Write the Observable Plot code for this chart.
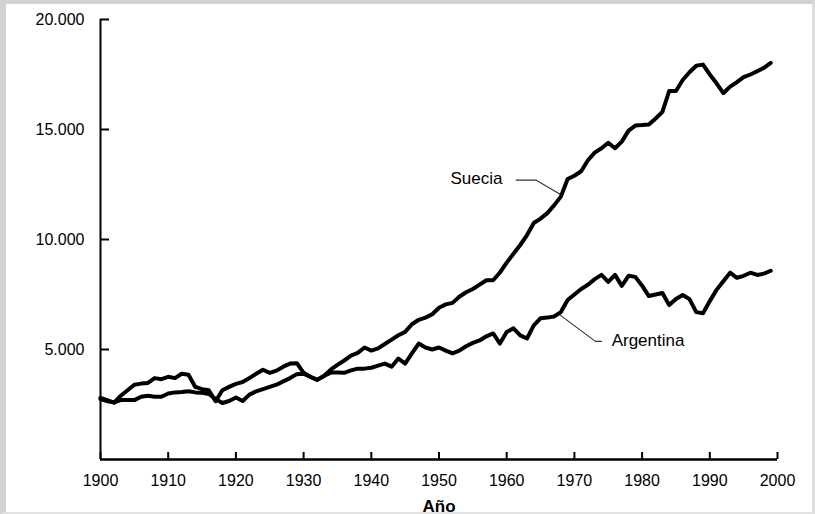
<!DOCTYPE html>
<html>
<head>
<meta charset="utf-8">
<script src="https://cdn.jsdelivr.net/npm/d3@7"></script>
<script src="https://cdn.jsdelivr.net/npm/@observablehq/plot@0.6"></script>
<style>
  html, body { margin: 0; padding: 0; background: #ffffff; }
  #wrap { position: relative; width: 815px; height: 514px; overflow: hidden; }
  #frame { position: absolute; left: 0; top: 0; width: 815px; height: 514px; box-sizing: border-box;
           border-left: 6px solid #d2d2d2; border-top: 4px solid #d2d2d2; border-right: 3px solid #dcdcdc; border-bottom: 2px solid #e2e2e2; pointer-events: none; }
  svg { font-family: "Liberation Sans", Arial, Helvetica, sans-serif; }
</style>
</head>
<body>
<div id="wrap"><div id="chart"></div><div id="frame"></div></div>
<script>
// ---- Data ----
const startYear = 1900;
const endYear = 1999;

const suecia = [
  2750, 2650, 2600, 2700, 2700, 2700, 2850, 2900, 2850, 2850,
  3000, 3050, 3070, 3100, 3050, 3030, 2980, 2750, 2570, 2660,
  2820, 2660, 2950, 3100, 3200, 3300, 3400, 3550, 3700, 3880,
  3900, 3750, 3620, 3800, 4080, 4300, 4500, 4720, 4850, 5090,
  4950, 5050, 5250, 5450, 5650, 5800, 6150, 6350, 6450, 6600,
  6900, 7050, 7120, 7400, 7600, 7750, 7950, 8150, 8150, 8500,
  8950, 9350, 9750, 10200, 10750, 10950, 11200, 11550, 11950, 12750,
  12900, 13100, 13600, 13950, 14150, 14400, 14150, 14450, 14950, 15180,
  15200, 15230, 15500, 15800, 16750, 16750, 17250, 17600, 17900, 17950,
  17500, 17100, 16650, 16950, 17150, 17380, 17500, 17650, 17800, 18030
];

const argentina = [
  2800, 2700, 2580, 2900, 3150, 3400, 3450, 3480, 3700, 3650,
  3760, 3700, 3900, 3850, 3300, 3200, 3150, 2650, 3150, 3300,
  3440, 3520, 3700, 3900, 4080, 3940, 4040, 4220, 4360, 4380,
  3940, 3760, 3620, 3800, 3950, 3950, 3940, 4050, 4130, 4130,
  4170, 4270, 4360, 4220, 4590, 4360, 4820, 5270, 5090, 5000,
  5090, 4950, 4820, 4950, 5150, 5300, 5410, 5600, 5730, 5270,
  5800, 5960, 5640, 5500, 6100, 6420, 6450, 6500, 6700, 7250,
  7500, 7750, 7940, 8200, 8390, 8070, 8390, 7890, 8350, 8300,
  7900, 7430, 7500, 7570, 7020, 7300, 7480, 7290, 6700, 6650,
  7200, 7710, 8100, 8490, 8260, 8350, 8490, 8390, 8450, 8580
];

const xTicks = [1900, 1910, 1920, 1930, 1940, 1950, 1960, 1970, 1980, 1990, 2000];
const yTicks = [5000, 10000, 15000, 20000];
const xLabel = "Año";

// Series labels and their leader lines (in data units)
const labelNames = ["Suecia", "Argentina"];
const labelYears = [1951.7, 1975.5];
const labelValues = [12750, 5400];

const sueciaLeaderYears = [1961.4, 1964.3, 1967.9];
const sueciaLeaderValues = [12700, 12700, 12060];
const argentinaLeaderYears = [1967.9, 1973.1, 1974.0];
const argentinaLeaderValues = [6560, 5370, 5370];

// ---- Build tables ----
const years = d3.range(startYear, endYear + 1);
const rows = [];
years.forEach((yr, i) => {
  rows.push({year: yr, value: suecia[i], pais: "Suecia"});
  rows.push({year: yr, value: argentina[i], pais: "Argentina"});
});
const labels = labelNames.map((n, i) => ({name: n, year: labelYears[i], value: labelValues[i]}));
const leaders = [
  ...sueciaLeaderYears.map((y, i) => ({g: "Suecia", year: y, value: sueciaLeaderValues[i]})),
  ...argentinaLeaderYears.map((y, i) => ({g: "Argentina", year: y, value: argentinaLeaderValues[i]}))
];

const fmt = d3.formatLocale({decimal: ",", thousands: ".", grouping: [3]}).format(",");

const W = 815, H = 514, mL = 100, mR = 38, mT = 19, mB = 55;
const innerW = W - mL - mR, innerH = H - mT - mB;
const xDomain = [1900, 2000], yDomain = [0, 20000];
// tick lengths (pixels) converted to data units for the inward ticks
const xTickLen = 7 * (yDomain[1] - yDomain[0]) / innerH;
const yTickLen = 9 * (xDomain[1] - xDomain[0]) / innerW;

const chart = Plot.plot({
  width: W,
  height: H,
  marginLeft: mL,
  marginRight: mR,
  marginTop: mT,
  marginBottom: mB,
  style: {background: "transparent", color: "#000", fontFamily: "Liberation Sans, Arial, sans-serif"},
  x: {domain: xDomain},
  y: {domain: yDomain},
  marks: [
    Plot.axisX({ticks: xTicks, tickFormat: d => String(d), tickSize: 0, tickPadding: 15, fontSize: 16, label: null}),
    Plot.axisY({ticks: yTicks, tickFormat: fmt, tickSize: 0, tickPadding: 16, fontSize: 16, label: null}),
    // inward tick marks
    Plot.ruleX(xTicks, {x: d => d, y1: yDomain[0], y2: yDomain[0] + xTickLen, stroke: "#000", strokeWidth: 2}),
    Plot.ruleY(yTicks, {y: d => d, x1: xDomain[0], x2: xDomain[0] + yTickLen, stroke: "#000", strokeWidth: 2}),
    Plot.ruleX([xDomain[0]], {stroke: "#000", strokeWidth: 2}),
    Plot.ruleY([yDomain[0]], {stroke: "#000", strokeWidth: 2.5}),
    Plot.line(leaders, {x: "year", y: "value", z: "g", stroke: "#333", strokeWidth: 1.1}),
    Plot.line(rows, {x: "year", y: "value", z: "pais", stroke: "#000", strokeWidth: 4, strokeLinejoin: "round", strokeLinecap: "round"}),
    Plot.text(labels, {x: "year", y: "value", text: "name", textAnchor: "start", fontSize: 17, fill: "#000"}),
    Plot.text([xLabel], {frameAnchor: "bottom", lineAnchor: "bottom", dy: 52, fontSize: 17, fontWeight: "bold", fill: "#000"})
  ]
});
document.getElementById("chart").appendChild(chart);
</script>
</body>
</html>
